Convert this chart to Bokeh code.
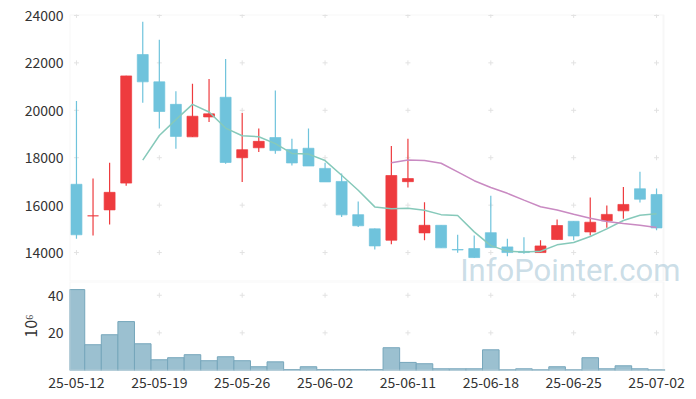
import pandas as pd
from bokeh.plotting import figure
from bokeh.layouts import column
from bokeh.models import ColumnDataSource, FixedTicker, Range1d, Label, BoxAnnotation
from bokeh.embed import file_html
from bokeh.resources import INLINE

dates = ["25-05-12", "25-05-13", "25-05-14", "25-05-15", "25-05-16",
         "25-05-19", "25-05-20", "25-05-21", "25-05-22", "25-05-23",
         "25-05-26", "25-05-27", "25-05-28", "25-05-29", "25-05-30",
         "25-06-02", "25-06-04", "25-06-05", "25-06-09", "25-06-10",
         "25-06-11", "25-06-12", "25-06-13", "25-06-16", "25-06-17",
         "25-06-18", "25-06-19", "25-06-20", "25-06-23", "25-06-24",
         "25-06-25", "25-06-26", "25-06-27", "25-06-30", "25-07-01",
         "25-07-02"]
opens = [16880, 15550, 15800, 16930, 22350, 21200, 20250, 18880, 19720, 20550,
         18000, 18420, 18850, 18350, 18400, 17550, 17000, 15600, 15000, 14520,
         16990, 14830, 15150, 14130, 14170, 14840, 14240, 14050, 14000, 14550,
         15320, 14870, 15340, 15760, 16690, 16450]
closes = [14750, 15550, 16540, 21450, 21200, 19950, 18900, 19750, 19850, 17800,
          18340, 18690, 18300, 17780, 17650, 16980, 15590, 15130, 14280, 17250,
          17120, 15150, 14200, 14110, 13790, 14210, 14000, 14000, 14280, 15140,
          14700, 15280, 15610, 16030, 16250, 15040]
highs = [20390, 17120, 17790, 21460, 23730, 22980, 20800, 21120, 21320, 22160,
         19890, 19230, 20840, 18800, 19230, 17790, 17330, 16150, 15010, 18490,
         18800, 16120, 15150, 14750, 14720, 16400, 14580, 14650, 14520, 15390,
         15320, 16320, 15980, 16770, 17410, 16700]
lows = [14580, 14720, 15180, 16820, 20320, 19230, 18380, 18870, 19510, 17750,
        16980, 18240, 18170, 17670, 17650, 16980, 15500, 15080, 14130, 14350,
        16740, 14520, 14200, 13990, 13770, 14210, 13850, 13950, 14000, 14540,
        14520, 14720, 15050, 15430, 16110, 14940]
volumes = [43.0, 13.7, 19.0, 26.0, 14.2, 5.7, 6.8, 8.4, 5.2, 7.3,
           5.2, 2.0, 4.6, 0.5, 2.0, 0.5, 0.5, 0.5, 0.5, 12.1,
           4.3, 3.6, 0.9, 0.9, 0.9, 11.0, 0.4, 0.9, 0.4, 2.0,
           0.4, 6.8, 0.9, 2.5, 0.9, 0.4]
price_ticks = [14000, 16000, 18000, 20000, 22000, 24000]
volume_ticks = [20, 40]
tick_every = 5

UP = "#ee3b3e"
DOWN = "#6fc3dc"
FONT = "Noto Sans CJK KR"
TXT = "#333333"
BORDER = "#e3e3e3"

df = pd.DataFrame(dict(date=dates, open=opens, close=closes, high=highs,
                       low=lows, vol=volumes))
df["x"] = range(len(df))
df["top"] = df[["open", "close"]].max(axis=1)
df["bot"] = df[["open", "close"]].min(axis=1)
df["color"] = [UP if c >= o else DOWN for o, c in zip(df.open, df.close)]
df["ma5"] = df.close.rolling(5).mean()
df["ma20"] = df.close.rolling(20).mean()
src = ColumnDataSource(df)

xticks = list(range(0, len(df), tick_every))
x0, x1 = -0.42, len(df) - 1 + 0.42
px_per_unit = 594 / (x1 - x0)
y0, y1 = 12780, 24040
vy0, vy1 = 0, 47.3

# Both frames are wider on the right so the watermark is not clipped;
# the visible chart borders are drawn with box annotations.
xr = Range1d(x0, x0 + 625 / px_per_unit)

p = figure(width=696, height=281, x_range=xr, y_range=Range1d(y0, y1),
           output_backend="svg", toolbar_location=None,
           min_border_left=69, min_border_right=2, min_border_top=14,
           min_border_bottom=0)
p.outline_line_color = None
p.xgrid.visible = False
p.ygrid.visible = False
p.xaxis.visible = False
p.yaxis.ticker = FixedTicker(ticks=price_ticks)
p.yaxis.axis_line_color = None
p.yaxis.major_tick_line_color = None
p.yaxis.minor_tick_line_color = None
p.yaxis.major_tick_out = 0
p.yaxis.major_label_standoff = 6
p.yaxis.major_label_text_font = FONT
p.yaxis.major_label_text_font_size = "14px"
p.yaxis.major_label_text_color = TXT

p.add_layout(BoxAnnotation(left=x0, right=x1, bottom=y0, top=y1,
                           fill_color=None, line_color=BORDER, line_width=2))

gx = [x for x in xticks for _ in price_ticks]
gy = [y for _ in xticks for y in price_ticks]
p.scatter(gx, gy, marker="cross", size=5, color="#e2e2e2", line_width=1)

p.segment(x0="x", y0="high", x1="x", y1="low", color="color", line_width=1.2, source=src)
p.vbar(x="x", width=0.66, top="top", bottom="bot", fill_color="color",
       line_color="color", line_alpha=0.7, source=src)
p.line(x="x", y="ma5", color="#86c9ba", line_width=1.5, source=src)
p.line(x="x", y="ma20", color="#c98ac2", line_width=1.5, source=src)

wm = Label(x=23.15, y=13240, text="InfoPointer.com", text_font="Roboto",
           text_font_size="31px", text_color="#b5cfdd", text_alpha=0.7,
           text_baseline="alphabetic")
p.add_layout(wm)

v = figure(width=696, height=118, x_range=xr, y_range=Range1d(vy0, vy1),
           output_backend="svg", toolbar_location=None,
           min_border_left=69, min_border_right=2, min_border_top=0,
           min_border_bottom=29)
v.outline_line_color = None
v.xgrid.visible = False
v.ygrid.visible = False
v.add_layout(BoxAnnotation(left=x0, right=x1, bottom=vy0, top=vy1,
                           fill_color=None, line_color=BORDER, line_width=2))
gx2 = [x for x in xticks for _ in volume_ticks]
gy2 = [y for _ in xticks for y in volume_ticks]
v.scatter(gx2, gy2, marker="cross", size=5, color="#e2e2e2", line_width=1)
v.vbar(x="x", width=1.0, top="vol", bottom=0, fill_color="#9bc0d0",
       line_color="#76a6bb", line_width=1, source=src)

v.xaxis.ticker = FixedTicker(ticks=xticks)
v.xaxis.major_label_overrides = {i: dates[i] for i in xticks}
v.xaxis.axis_line_color = None
v.xaxis.major_tick_line_color = None
v.xaxis.minor_tick_line_color = None
v.xaxis.major_tick_out = 0
v.xaxis.major_label_standoff = 6
v.xaxis.major_label_text_font = FONT
v.xaxis.major_label_text_font_size = "14px"
v.xaxis.major_label_text_color = TXT

v.yaxis.ticker = FixedTicker(ticks=volume_ticks)
v.yaxis.axis_line_color = None
v.yaxis.major_tick_line_color = None
v.yaxis.minor_tick_line_color = None
v.yaxis.major_tick_out = 0
v.yaxis.major_label_standoff = 6
v.yaxis.major_label_text_font = FONT
v.yaxis.major_label_text_font_size = "14px"
v.yaxis.major_label_text_color = TXT
v.yaxis.axis_label = "10⁶"
v.yaxis.axis_label_text_font = FONT
v.yaxis.axis_label_text_font_size = "16px"
v.yaxis.axis_label_text_font_style = "normal"
v.yaxis.axis_label_text_color = TXT
v.yaxis.axis_label_standoff = 3

layout = column(p, v, spacing=0)
open("out.html", "w").write(file_html(layout, INLINE))
